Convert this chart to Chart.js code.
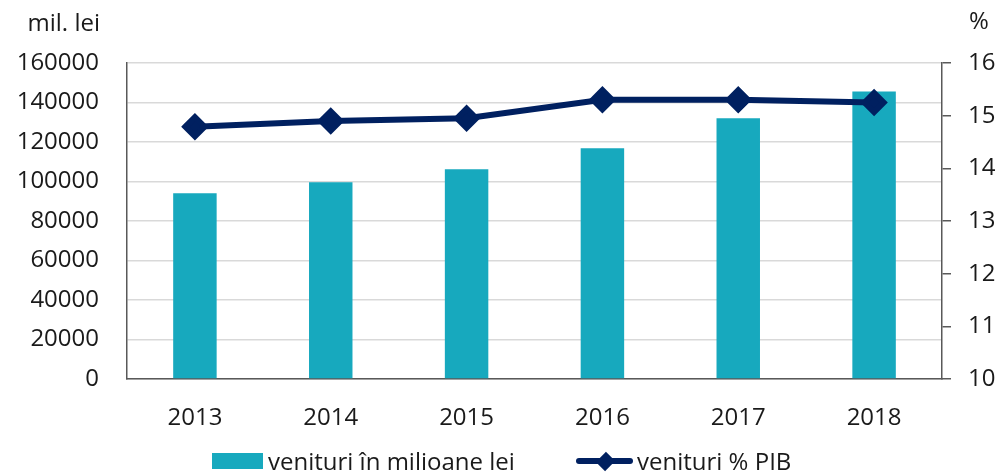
<!DOCTYPE html>
<html>
<head>
<meta charset="utf-8">
<script src="https://cdn.jsdelivr.net/npm/chart.js@4"></script>
<style>
  html, body { margin: 0; padding: 0; background: #fff; }
  #wrap { position: relative; width: 1000px; height: 474px; font-family: 'Open Sans', sans-serif; color: #1a1a1a; }
  #chart { position: absolute; left: 0; top: 0; }
  .lg { position: absolute; }
  .lg-text { position: absolute; font-size: 24px; line-height: 30px; top: 446px; white-space: nowrap; }
  #swBar { left: 212px; top: 453px; width: 51px; height: 16px; background: #17A9BE; }
  #swLine { left: 576px; top: 458px; width: 57px; height: 6px; background: #002060; border-radius: 3px; }
  #swDiamond { left: 599px; top: 455px; width: 13px; height: 13px; background: #002060; transform: rotate(45deg) scaleY(1.1); }
</style>
</head>
<body>
<div id="wrap">
  <canvas id="chart" width="1000" height="474"></canvas>
  <div id="legend"></div>
</div>
<script>
const years = ['2013', '2014', '2015', '2016', '2017', '2018'];
const revenueMil = [94000, 99600, 106200, 116800, 132000, 145600];
const revenuePctGdp = [14.79, 14.90, 14.95, 15.30, 15.30, 15.25];
const seriesNames = ['venituri în milioane lei', 'venituri % PIB'];
const leftTitle = 'mil. lei';
const rightTitle = '%';

const FONT = "'Open Sans', sans-serif";
const TEXT = '#1a1a1a';
const BAR_COLOR = '#17A9BE';
const LINE_COLOR = '#002060';

// html legend below the plot
const legend = document.getElementById('legend');
legend.innerHTML =
    '<div class="lg" id="swBar"></div>' +
    '<div class="lg-text" style="left:268px">' + seriesNames[0] + '</div>' +
    '<div class="lg" id="swLine"></div><div class="lg" id="swDiamond"></div>' +
    '<div class="lg-text" style="left:637px">' + seriesNames[1] + '</div>';

const axisTitles = {
    id: 'axisTitles',
    afterDraw(chart) {
        const ctx = chart.ctx;
        ctx.save();
        ctx.font = '24px ' + FONT;
        ctx.fillStyle = TEXT;
        ctx.textBaseline = 'middle';
        ctx.textAlign = 'right';
        ctx.fillText(leftTitle, 100, 24);
        ctx.textAlign = 'left';
        ctx.fillText(rightTitle, 969, 22);
        ctx.restore();
    }
};

new Chart(document.getElementById('chart'), {
    data: {
        labels: years,
        datasets: [
            {
                type: 'bar',
                label: seriesNames[0],
                data: revenueMil,
                backgroundColor: BAR_COLOR,
                yAxisID: 'y',
                barPercentage: 0.32,
                categoryPercentage: 1,
                order: 2
            },
            {
                type: 'line',
                label: seriesNames[1],
                data: revenuePctGdp,
                borderColor: LINE_COLOR,
                backgroundColor: LINE_COLOR,
                borderWidth: 6,
                pointStyle: 'rectRot',
                pointRadius: 9.5,
                pointHoverRadius: 9.5,
                tension: 0,
                yAxisID: 'y1',
                order: 1
            }
        ]
    },
    options: {
        responsive: false,
        animation: false,
        layout: { padding: { top: 63, left: 0, right: 0, bottom: 0 } },
        scales: {
            x: {
                afterFit: s => { s.height = 95; },
                grid: { drawOnChartArea: false, drawTicks: false },
                border: { display: true, color: '#595959', width: 1.5 },
                ticks: { color: TEXT, font: { family: FONT, size: 24 }, padding: 25 }
            },
            y: {
                position: 'left',
                min: 0,
                max: 160000,
                afterFit: s => { s.width = 127; },
                ticks: { stepSize: 20000, color: TEXT, font: { family: FONT, size: 24 }, padding: 28,
                         callback: v => String(v) },
                grid: { color: '#d9d9d9', lineWidth: 1.5, drawTicks: false },
                border: { display: true, color: '#595959', width: 1.5 }
            },
            y1: {
                position: 'right',
                min: 10,
                max: 16,
                afterFit: s => { s.width = 58; },
                ticks: { stepSize: 1, color: TEXT, font: { family: FONT, size: 24 }, padding: 17 },
                grid: { drawOnChartArea: false, drawTicks: true, tickLength: 9, color: '#595959', lineWidth: 1.5 },
                border: { display: true, color: '#595959', width: 1.5 }
            }
        },
        plugins: {
            tooltip: { enabled: false },
            legend: { display: false }
        }
    },
    plugins: [axisTitles]
});
</script>
</body>
</html>
